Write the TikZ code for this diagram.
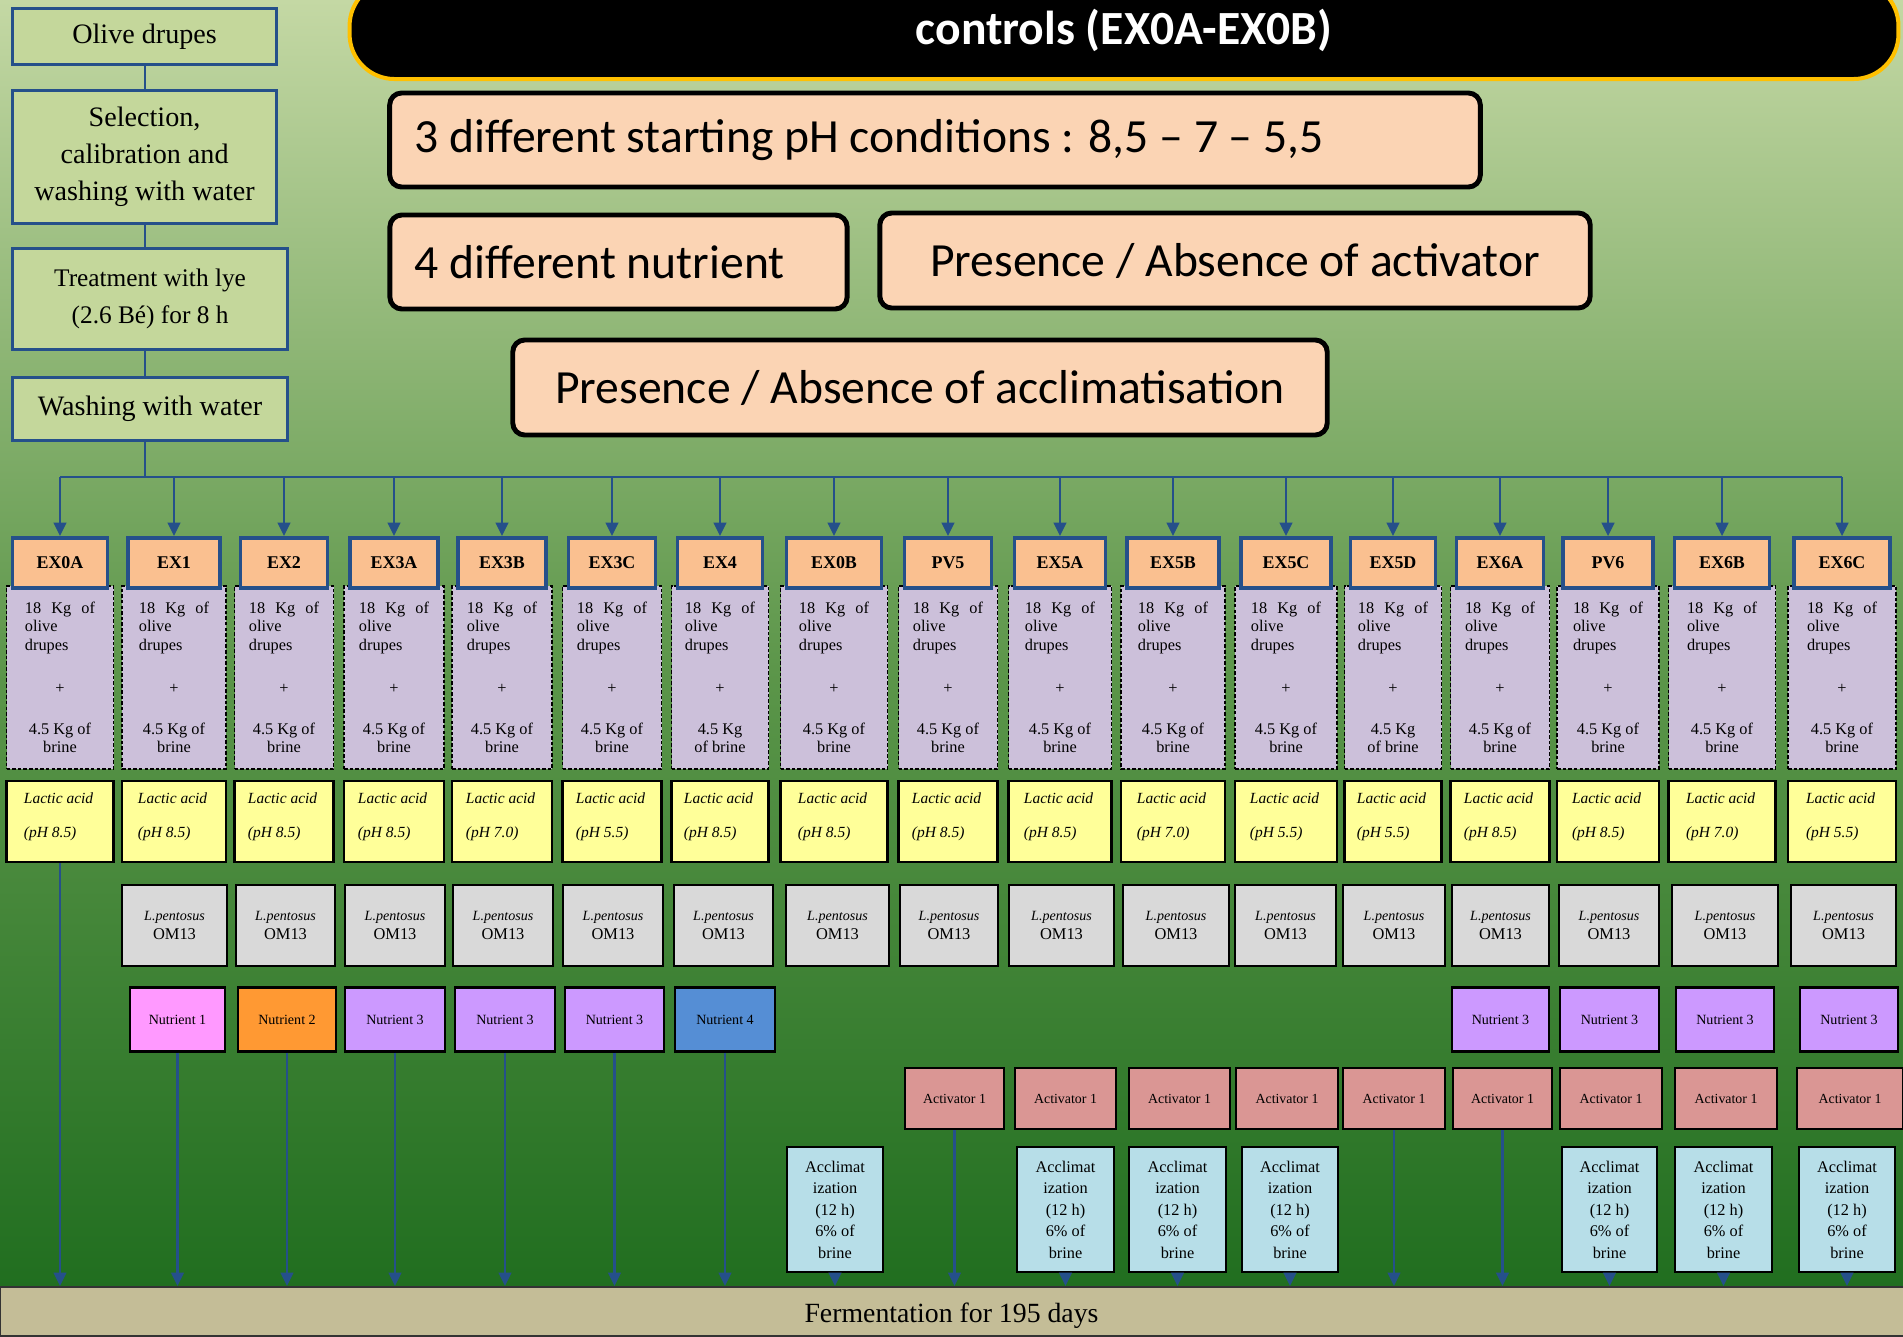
\documentclass[tikz,border=0pt]{standalone}
\usepackage{fontspec}
\setmainfont{Liberation Serif}
\newfontfamily\calibri{Carlito}
\usetikzlibrary{arrows.meta}
\definecolor{bgtop}{HTML}{C4D8A4}
\definecolor{bgmid}{HTML}{5C964A}
\definecolor{bgbot}{HTML}{1C6B1C}
\definecolor{linkblue}{HTML}{25508A}
\definecolor{prepfill}{HTML}{C4D79B}
\definecolor{peach}{HTML}{FBD4B4}
\definecolor{gold}{HTML}{FFC000}
\definecolor{exfill}{HTML}{FAC090}
\definecolor{mixfill}{HTML}{CCC0DA}
\definecolor{lacfill}{HTML}{FFFF99}
\definecolor{strainfill}{HTML}{D9D9D9}
\definecolor{nutA}{HTML}{FF99FF}
\definecolor{nutB}{HTML}{FF9933}
\definecolor{nutC}{HTML}{CC99FF}
\definecolor{nutD}{HTML}{558ED5}
\definecolor{actfill}{HTML}{DA9694}
\definecolor{accfill}{HTML}{B7DEE8}
\definecolor{fermfill}{HTML}{C4BD97}
\begin{document}
\begin{tikzpicture}
		[x=0.01cm, y=-0.01cm,
		prep/.style={draw=linkblue, line width=0.85pt, fill=prepfill, inner sep=0pt,
			align=center, font=\fontsize{8}{10.5}\selectfont},
		head/.style={fill=black, draw=gold, line width=1.14pt, rounded corners=0.45cm,
			text=white, font=\calibri\bfseries\fontsize{13.54}{16}\selectfont},
		cond/.style={fill=peach, draw=black, line width=1.4pt, rounded corners=0.12cm,
			inner sep=0pt, font=\calibri\fontsize{13.54}{16}\selectfont},
		exlab/.style={fill=exfill, draw=linkblue, line width=1.1pt, minimum height=0.5cm,
			inner sep=0pt, font=\bfseries\fontsize{5.1}{6}\selectfont},
		mix/.style={fill=mixfill, draw=black, dash pattern=on 1pt off 0.6pt, line width=0.45pt,
			minimum height=1.83cm, text width=0.7cm, align=left, inner sep=0pt,
			font=\fontsize{4.64}{5.26}\selectfont},
		lactic/.style={fill=lacfill, draw=black, line width=0.6pt, minimum height=0.81cm,
			text width=0.72cm, align=left, inner sep=0pt, font=\itshape\fontsize{4.4}{5}\selectfont},
		strain/.style={fill=strainfill, draw=black, line width=0.6pt, minimum height=0.81cm,
			align=center, inner sep=0pt, font=\fontsize{4.67}{5.4}\selectfont},
		nutr/.style={draw=black, line width=0.6pt, minimum height=0.64cm, inner sep=0pt,
			font=\fontsize{4}{5}\selectfont},
		activ/.style={fill=actfill, draw=black, line width=0.6pt, minimum height=0.61cm,
			inner sep=0pt, font=\fontsize{3.95}{5}\selectfont},
		acclim/.style={fill=accfill, draw=black, line width=0.6pt, minimum height=1.25cm,
			align=center, inner sep=0pt, font=\fontsize{4.64}{6.1}\selectfont},
		fermbar/.style={fill=fermfill, draw=black!80, line width=0.6pt, minimum width=19.03cm,
			minimum height=0.49cm, inner sep=0pt, text height=6.5pt, text depth=0.5pt,
			font=\fontsize{7.9}{9}\selectfont},
		link/.style={draw=linkblue, line width=0.6pt},
		arr/.style={draw=linkblue, line width=0.6pt, -{Triangle[length=3.8pt, width=3.6pt]}}
		]
		\useasboundingbox (0,0) rectangle (1903,1336);
		\clip (0,0) rectangle (1903,1336);
		\shade[top color=bgtop, bottom color=bgbot, middle color=bgmid] (0,0) rectangle (1903,1336);
		\coordinate (bus) at (0,477);

		\node[head, minimum width=15.48cm, minimum height=0.98cm] (title) at (1124,30) {controls (EX0A-EX0B)};
		\node[cond, minimum width=10.9cm, minimum height=0.94cm, text width=10.4cm, align=left] (ph) at (935,140)
			{\spaceskip=0pt\xspaceskip=0pt\relax 3 different starting pH conditions : 8,5 – 7 – 5,5};
		\node[cond, minimum width=4.57cm, minimum height=0.94cm, text width=4.07cm, align=left] (nutrients) at (618.5,262)
			{\spaceskip=0pt\xspaceskip=0pt\relax 4 different nutrient};
		\node[cond, minimum width=7.1cm, minimum height=0.95cm] (activator) at (1235,260.5)
			{Presence / Absence of activator};
		\node[cond, minimum width=8.14cm, minimum height=0.95cm] (acclimat) at (920,387.5)
			{Presence / Absence of acclimatisation};

		\node[prep, anchor=north west, minimum width=2.64cm, minimum height=0.56cm] (olive) at (11,7) {Olive drupes};
		\node[prep, anchor=north west, minimum width=2.64cm, minimum height=1.33cm] (select) at (11,89)
			{Selection,\\calibration and\\washing with water};
		\node[prep, anchor=north west, minimum width=2.75cm, minimum height=1.01cm,
			font=\fontsize{7.2}{10.4}\selectfont] (lye) at (11,247) {Treatment with lye\\(2.6 Bé) for 8 h};
		\node[prep, anchor=north west, minimum width=2.75cm, minimum height=0.63cm] (wash) at (11,376) {Washing with water};
		\draw[link] (olive) -- (select);
		\draw[link] (select.south) -- (select.south |- lye.north);
		\draw[link] (select.south |- lye.south) -- (select.south |- wash.north);
		\draw[link] (select.south |- wash.south) -- (select.south |- bus);

		\foreach \id/\lab/\cx/\w/\ph/\bl/\br in {
			0a/EX0A/60/107/8.5/4.5 Kg of/brine,
			1/EX1/174/104/8.5/4.5 Kg of/brine,
			2/EX2/284/99/8.5/4.5 Kg of/brine,
			3a/EX3A/394/100/8.5/4.5 Kg of/brine,
			3b/EX3B/502/100/7.0/4.5 Kg of/brine,
			3c/EX3C/612/99/5.5/4.5 Kg of/brine,
			4/EX4/720/97/8.5/4.5 Kg/of brine,
			0b/EX0B/834/107/8.5/4.5 Kg of/brine,
			p5/PV5/948/99/8.5/4.5 Kg of/brine,
			5a/EX5A/1060/103/8.5/4.5 Kg of/brine,
			5b/EX5B/1173/104/7.0/4.5 Kg of/brine,
			5c/EX5C/1286/102/5.5/4.5 Kg of/brine,
			5d/EX5D/1393/97/5.5/4.5 Kg/of brine,
			6a/EX6A/1500/99/8.5/4.5 Kg of/brine,
			p6/PV6/1608/102/8.5/4.5 Kg of/brine,
			6b/EX6B/1722/107/7.0/4.5 Kg of/brine,
			6c/EX6C/1842/108/5.5/4.5 Kg of/brine}{
			\node[mix, minimum width=\w*0.01cm] (mix\id) at (\cx,677.5)
				{\spaceskip=0pt\relax 18\hfill Kg\hfill of\\olive\\drupes\\[7pt]\hfill+\hfill\null\\[6.4pt]\hfill\bl\hfill\null\\\hfill\br\hfill\null};
			\node[exlab, minimum width=(\w-12)*0.01cm] (ex\id) at (\cx,563) {\lab};
			\node[lactic, minimum width=\w*0.01cm] (lac\id) at (\cx,821.5)
				{\spaceskip=0pt\relax Lactic acid\\[4.7pt](pH \ph)\\[-1.5pt]\mbox{}};
			\draw[arr] (ex\id.north |- bus) -- (ex\id.north);
		}
		\draw[link] (ex0a.north |- bus) -- (ex6c.north |- bus);

		\foreach \id/\cx/\w in {1/174.5/105, 2/285.5/99, 3a/395/100, 3b/503/100, 3c/613/100, 4/723.5/99,
			0b/837.5/103, p5/949/98, 5a/1061.5/105, 5b/1176/106, 5c/1285.5/101, 5d/1394/102,
			6a/1500.5/97, p6/1609/100, 6b/1725/106, 6c/1843.5/105}
			\node[strain, minimum width=\w*0.01cm] (lp\id) at (\cx,925.5)
				{{\itshape\fontsize{4}{5.4}\selectfont L.pentosus}\\OM13};

		\foreach \id/\cx/\w/\k/\col in {1/177.5/95/1/nutA, 2/287/98/2/nutB, 3a/395/100/3/nutC,
			3b/505/100/3/nutC, 3c/614.5/99/3/nutC, 4/725/100/4/nutD, 6a/1500.5/97/3/nutC,
			p6/1609.5/99/3/nutC, 6b/1725/98/3/nutC, 6c/1849/98/3/nutC}
			\node[nutr, fill=\col, minimum width=\w*0.01cm] (nut\id) at (\cx,1019.5) {Nutrient \k};

		\foreach \id/\cx/\w in {p5/954.5/99, 5a/1065.5/101, 5b/1179.5/101, 5c/1287/102, 5d/1394/102,
			6a/1502.5/99, p6/1611/102, 6b/1726/102, 6c/1850/106}
			\node[activ, minimum width=\w*0.01cm] (act\id) at (\cx,1098.5) {Activator 1};

		\foreach \id/\cx/\w in {0b/835/96, 5a/1065.5/97, 5b/1177.5/97, 5c/1290/96, p6/1609.5/95,
			6b/1723.5/97, 6c/1847/96}
			\node[acclim, minimum width=\w*0.01cm] (acc\id) at (\cx,1209.5)
				{Acclimat\\ization\\(12 h)\\6\% of\\brine};

		\node[fermbar] (ferm) at (951.5,1311.5) {Fermentation for 195 days};

		\foreach \src in {lac0a, nut1, nut2, nut3a, nut3b, nut3c, nut4, acc0b, actp5, acc5a, acc5b,
			acc5c, act5d, act6a, accp6, acc6b, acc6c}
			\draw[arr] (\src.south) -- (\src.south |- ferm.north);
	\end{tikzpicture}
\end{document}
